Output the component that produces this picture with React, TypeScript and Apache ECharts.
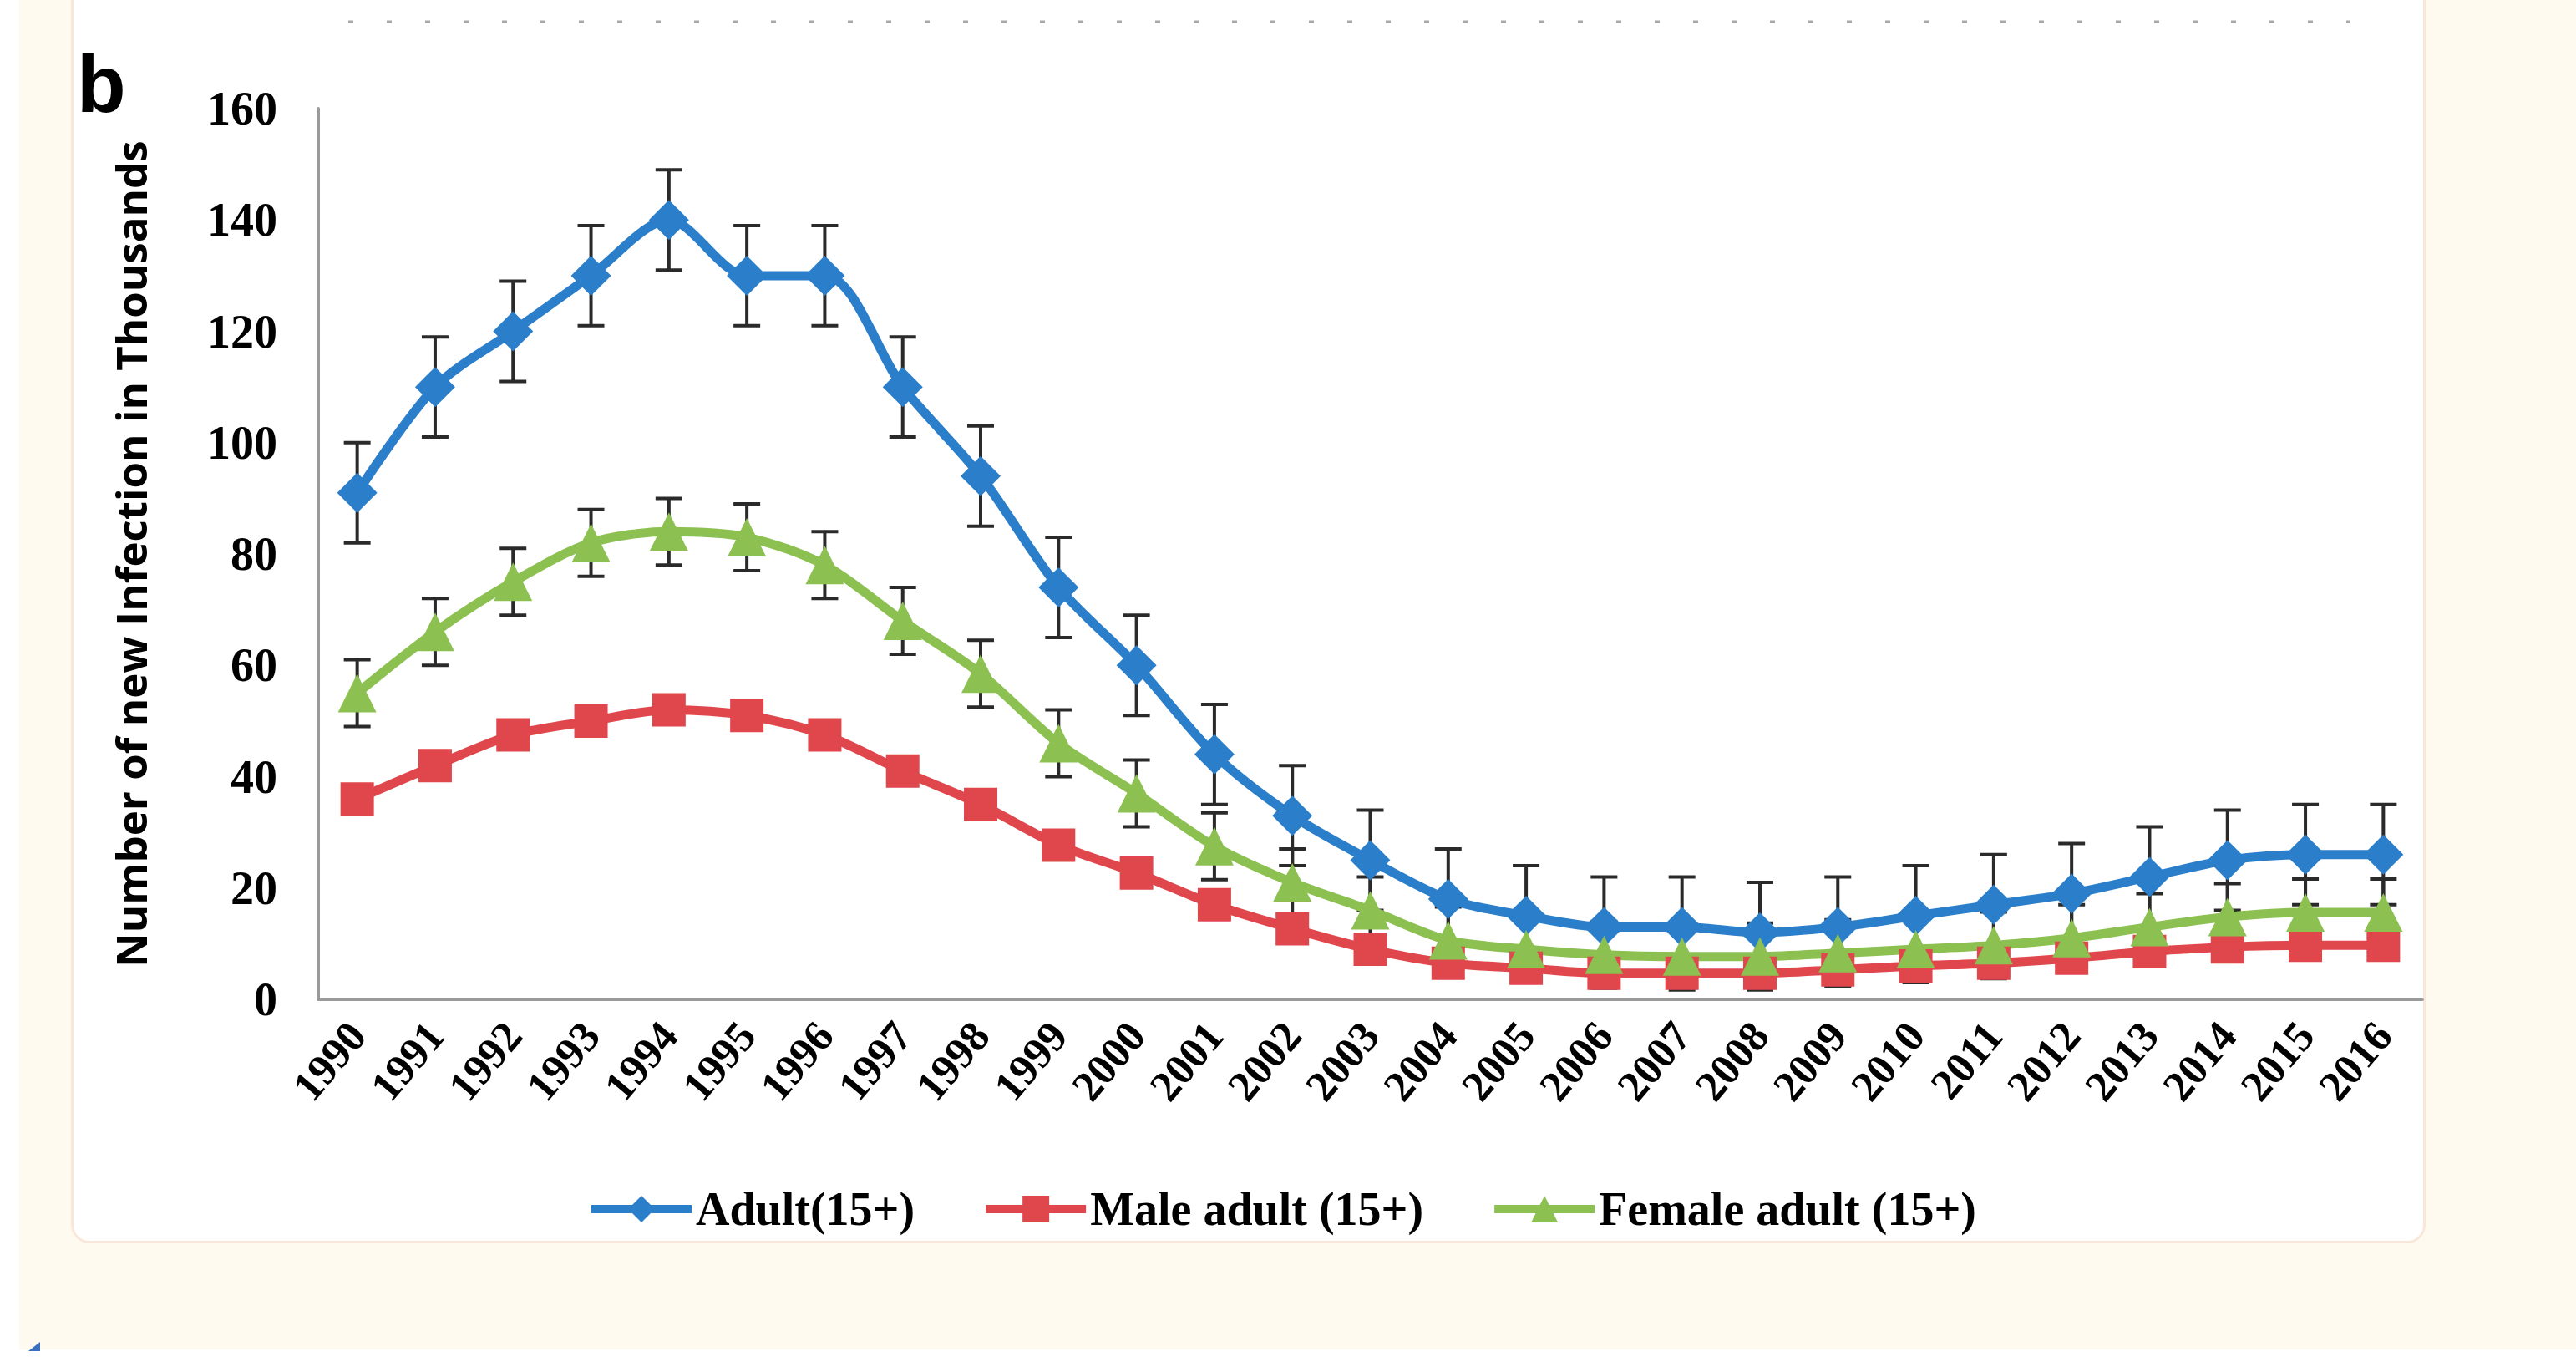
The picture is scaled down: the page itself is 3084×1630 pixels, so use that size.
import { useEffect, useRef } from 'react';
import * as echarts from 'echarts';

const years = [
  '1990', '1991', '1992', '1993', '1994', '1995', '1996', '1997', '1998',
  '1999', '2000', '2001', '2002', '2003', '2004', '2005', '2006', '2007',
  '2008', '2009', '2010', '2011', '2012', '2013', '2014', '2015', '2016',
];

const adult = [91, 110, 120, 130, 140, 130, 130, 110, 94, 74, 60, 44, 33, 25, 18, 15, 13, 13, 12, 13, 15, 17, 19, 22, 25, 26, 26];
const male = [36, 42, 47.5, 50, 52, 51, 47.5, 41, 35, 27.7, 22.7, 17, 12.7, 9, 6.5, 5.6, 4.7, 4.7, 4.7, 5.3, 6, 6.5, 7.4, 8.6, 9.4, 9.7, 9.7];
const female = [55, 66, 75, 82, 84, 83, 78, 68, 58.5, 46, 37, 27.5, 21, 16, 10.6, 9, 8, 7.7, 7.7, 8.3, 9, 9.7, 11, 13, 14.8, 15.6, 15.6];

// error bar half-widths (thousands)
const adultErr = [9, 9, 9, 9, 9, 9, 9, 9, 9, 9, 9, 9, 9, 9, 9, 9, 9, 9, 9, 9, 9, 9, 9, 9, 9, 9, 9];
const femaleErr = [6, 6, 6, 6, 6, 6, 6, 6, 6, 6, 6, 6, 6, 6, 6, 6, 6, 6, 6, 6, 6, 6, 6, 6, 6, 6, 6];

const seriesNames = ['Adult(15+)', 'Male adult (15+)', 'Female adult (15+)'];
const colors = ['#2b7ec9', '#e0474c', '#8cc152'];

const yTitle = 'Number of new Infection in Thousands';

const SERIF = "'Liberation Serif', 'Times New Roman', serif";

function errorSeries(values: number[], errs: number[]) {
  return {
    type: 'custom',
    z: 1,
    silent: true,
    data: values.map((v, i) => [i, v, errs[i]]),
    encode: { x: 0, y: 1 },
    renderItem: (_params: any, api: any) => {
      const i = api.value(0);
      const v = api.value(1);
      const e = api.value(2);
      const top = api.coord([i, v + e]);
      const bot = api.coord([i, v - e]);
      const cap = 16;
      const style = { stroke: '#2a2a2a', lineWidth: 4 };
      return {
        type: 'group',
        children: [
          { type: 'line', shape: { x1: top[0], y1: top[1], x2: bot[0], y2: bot[1] }, style },
          { type: 'line', shape: { x1: top[0] - cap, y1: top[1], x2: top[0] + cap, y2: top[1] }, style },
          { type: 'line', shape: { x1: bot[0] - cap, y1: bot[1], x2: bot[0] + cap, y2: bot[1] }, style },
        ],
      };
    },
  };
}

function lineSeries(name: string, data: number[], color: string, symbol: string, size: number) {
  return {
    name,
    type: 'line',
    z: 3,
    data,
    smooth: 0.3,
    symbol,
    symbolSize: size,
    lineStyle: { color, width: 11 },
    itemStyle: { color },
  };
}

export default function App() {
  const chartRef = useRef<HTMLDivElement>(null);

  useEffect(() => {
    if (!chartRef.current) return;
    const chart = echarts.init(chartRef.current, undefined, { renderer: 'svg' });

    const option: any = {
      animation: false,
      backgroundColor: 'transparent',
      grid: {
        left: 381,
        right: 184,
        top: 130,
        bottom: 434,
        containLabel: false,
        outerBoundsMode: 'none',
      },
      legend: {
        data: seriesNames,
        left: 703,
        top: 1419,
        padding: 0,
        itemWidth: 120,
        itemHeight: 40,
        itemGap: 80,
        lineStyle: { width: 10 },
        textStyle: {
          fontFamily: SERIF,
          fontWeight: 'bold',
          fontSize: 56,
          color: '#000',
        },
      },
      xAxis: {
        type: 'category',
        data: years,
        boundaryGap: true,
        axisLine: { show: true, lineStyle: { color: '#9a9a9a', width: 4 } },
        axisTick: { show: false },
        axisLabel: {
          rotate: 50,
          margin: 34,
          interval: 0,
          fontFamily: SERIF,
          fontWeight: 'bold',
          fontSize: 52,
          color: '#000',
        },
        splitLine: { show: false },
      },
      yAxis: {
        type: 'value',
        min: 0,
        max: 160,
        interval: 20,
        name: yTitle,
        nameLocation: 'middle',
        nameRotate: 90,
        nameGap: 200,
        nameTextStyle: {
          fontFamily: "'Open Sans', 'DejaVu Sans', sans-serif",
          fontWeight: 'bold',
          fontSize: 51,
          color: '#000',
        },
        axisLine: { show: true, lineStyle: { color: '#9a9a9a', width: 4 } },
        axisTick: { show: false },
        axisLabel: {
          margin: 49,
          fontFamily: SERIF,
          fontWeight: 'bold',
          fontSize: 56,
          color: '#000',
        },
        splitLine: { show: false },
      },
      graphic: [
        {
          type: 'text',
          left: 92,
          top: 52,
          style: {
            text: 'b',
            fontFamily: "'Liberation Sans', Arial, sans-serif",
            fontWeight: 'bold',
            fontSize: 96,
            fill: '#000',
          },
        },
        {
          type: 'line',
          shape: { x1: 417, y1: 26, x2: 2813, y2: 26 },
          style: { stroke: '#a8a8a8', lineWidth: 3, lineDash: [6, 40] },
        },
        {
          type: 'polygon',
          shape: { points: [[34, 1617], [48, 1606], [48, 1617]] },
          style: { fill: '#3a6fc0' },
        },
      ],
      series: [
        errorSeries(adult, adultErr),
        errorSeries(female, femaleErr),
        lineSeries(seriesNames[0], adult, colors[0], 'diamond', 48),
        lineSeries(seriesNames[1], male, colors[1], 'rect', 40),
        lineSeries(seriesNames[2], female, colors[2], 'triangle', 46),
      ],
    };

    chart.setOption(option);
    return () => {
      chart.dispose();
    };
  }, []);

  return (
    <div style={{ position: 'fixed', left: 0, top: 0, width: 3084, height: 1630, background: '#ffffff', overflow: 'hidden' }}>
      <div style={{ position: 'absolute', left: 23, top: 0, width: 3061, height: 1615, background: '#fefaef' }} />
      <div
        style={{
          position: 'absolute',
          left: 85,
          top: -40,
          width: 2819,
          height: 1528,
          background: '#ffffff',
          border: '3px solid #fbe6da',
          borderRadius: 22,
          boxSizing: 'border-box',
        }}
      />
      <div ref={chartRef} style={{ position: 'absolute', left: 0, top: 0, width: 3084, height: 1630 }} />
    </div>
  );
}
